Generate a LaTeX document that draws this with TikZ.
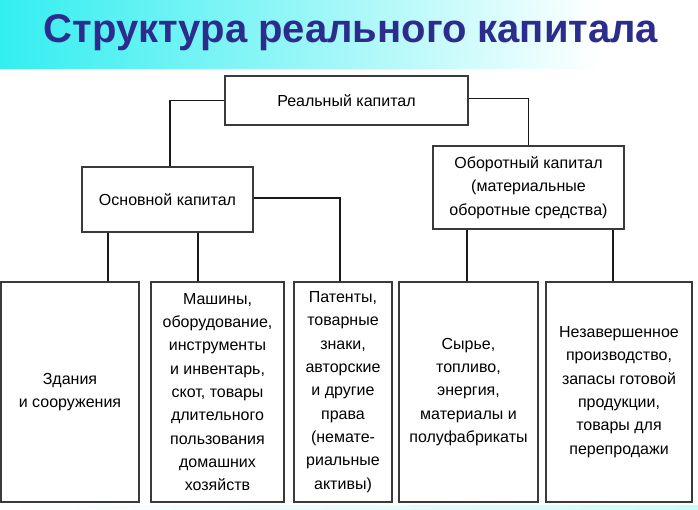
\documentclass[tikz,border=0pt]{standalone}
\usepackage{fontspec}
\setmainfont{Liberation Sans}
\definecolor{titleblue}{HTML}{2B2C8C}
\definecolor{bandcyan}{HTML}{33EEF0}
\definecolor{boxline}{HTML}{3A3A3A}
\pgfdeclarehorizontalshading{band}{100bp}{color(0bp)=(bandcyan); color(25bp)=(bandcyan); color(45bp)=(bandcyan!55!white); color(68bp)=(white); color(100bp)=(white)}
\pgfdeclarehorizontalshading{bottomband}{100bp}{color(0bp)=(white); color(25bp)=(white); color(55bp)=(bandcyan!15!white); color(75bp)=(bandcyan!25!white); color(100bp)=(bandcyan!25!white)}
\begin{document}
\begin{tikzpicture}[x=1pt,y=-1pt,
  box/.style={draw=boxline, line width=1.7pt, fill=white, align=center,
    font=\fontsize{16}{23.3}\selectfont, inner sep=2pt},
  link/.style={line width=1.5pt, draw=black!90}]
\useasboundingbox (0,0) rectangle (698,509);
\fill[white] (0,0) rectangle (698,509);
\shade[shading=band] (0,0) rectangle (698,68);
\shade[shading=bottomband] (0,505) rectangle (698,509);
\node[font=\bfseries\fontsize{40}{42}\selectfont, text=titleblue, anchor=base] (title) at (351,42.5) {Структура реального капитала};

\node[box, minimum width=243pt, minimum height=49pt] (R) at (346.5,100.5) {Реальный капитал};
\node[box, minimum width=171pt, minimum height=65pt] (O) at (167.5,199.5) {Основной капитал};
\node[box, minimum width=191pt, minimum height=83pt] (B) at (528.5,187.5) {Оборотный капитал\\(материальные\\оборотные средства)};

\node[box, minimum width=138pt, minimum height=220pt] (Z) at (70,392) {Здания\\и сооружения};
\node[box, minimum width=133pt, minimum height=220pt] (M) at (217.5,392) {Машины,\\оборудование,\\инструменты\\и инвентарь,\\скот, товары\\длительного\\пользования\\домашних\\хозяйств};
\node[box, minimum width=98pt, minimum height=220pt] (P) at (343,392) {Патенты,\\товарные\\знаки,\\авторские\\и другие\\права\\(немате-\\риальные\\активы)};
\node[box, minimum width=139pt, minimum height=220pt] (S) at (468.5,392) {Сырье,\\топливо,\\энергия,\\материалы и\\полуфабрикаты};
\node[box, minimum width=146pt, minimum height=220pt] (N) at (619,392) {Незавершенное\\производство,\\запасы готовой\\продукции,\\товары для\\перепродажи};

\draw[link] (R.west) -| ([xshift=2.5pt]O.north);
\draw[link] ([yshift=2pt]R.east) -| (B.north);
\draw[link] ([yshift=1.5pt]O.east) -| ([xshift=-3pt]P.north);
\draw[link] (O.south -| 108,0) -- (Z.north -| 108,0);
\draw[link] (O.south -| 198,0) -- (M.north -| 198,0);
\draw[link] (B.south -| 467,0) -- (S.north -| 467,0);
\draw[link] (B.south -| 613,0) -- (N.north -| 613,0);
\end{tikzpicture}
\end{document}
